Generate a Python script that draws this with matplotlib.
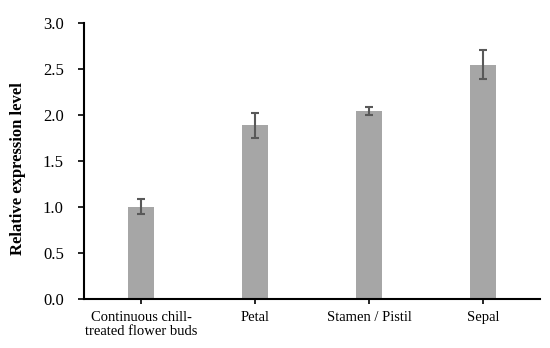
import matplotlib
matplotlib.use("Agg")
import matplotlib.pyplot as plt

plt.rcParams['font.family'] = ['Liberation Serif', 'DejaVu Serif']

# data
categories = ["Continuous chill-\ntreated flower buds", "Petal", "Stamen / Pistil", "Sepal"]
expression = [1.01, 1.89, 2.05, 2.55]
errors = [0.085, 0.14, 0.045, 0.16]
yticks = [0.0, 0.5, 1.0, 1.5, 2.0, 2.5, 3.0]

fig = plt.figure(figsize=(5.5, 3.48), dpi=100)
ax = fig.add_axes([0.1527, 0.1394, 0.8291, 0.7936])

x = range(len(categories))
ax.bar(x, expression, width=0.22, color="#a6a6a6", zorder=2)
ax.errorbar(x, expression, yerr=errors, fmt="none", ecolor="#595959",
            elinewidth=1.5, capsize=2.7, capthick=1.5, zorder=3)

ax.set_xlim(-0.5, 3.5)
ax.set_ylim(0, 3.0)
ax.set_yticks(yticks)
ax.set_yticklabels(["%.1f" % t for t in yticks])
ax.set_xticks(list(x))
ax.set_xticklabels(categories, linespacing=1.1)
ax.tick_params(axis="both", width=1.2, color="black")
ax.tick_params(axis="x", labelsize=10.5, length=3.5, pad=5)
ax.tick_params(axis="y", labelsize=12, length=4, pad=10.5)

for s in ["top", "right"]:
    ax.spines[s].set_visible(False)
for s in ["left", "bottom"]:
    ax.spines[s].set_linewidth(1.5)

ax.set_ylabel("Relative expression level", fontsize=12, fontweight="bold")
ax.yaxis.set_label_coords(-0.127, 0.475)

fig.savefig("out.png", dpi=100)
